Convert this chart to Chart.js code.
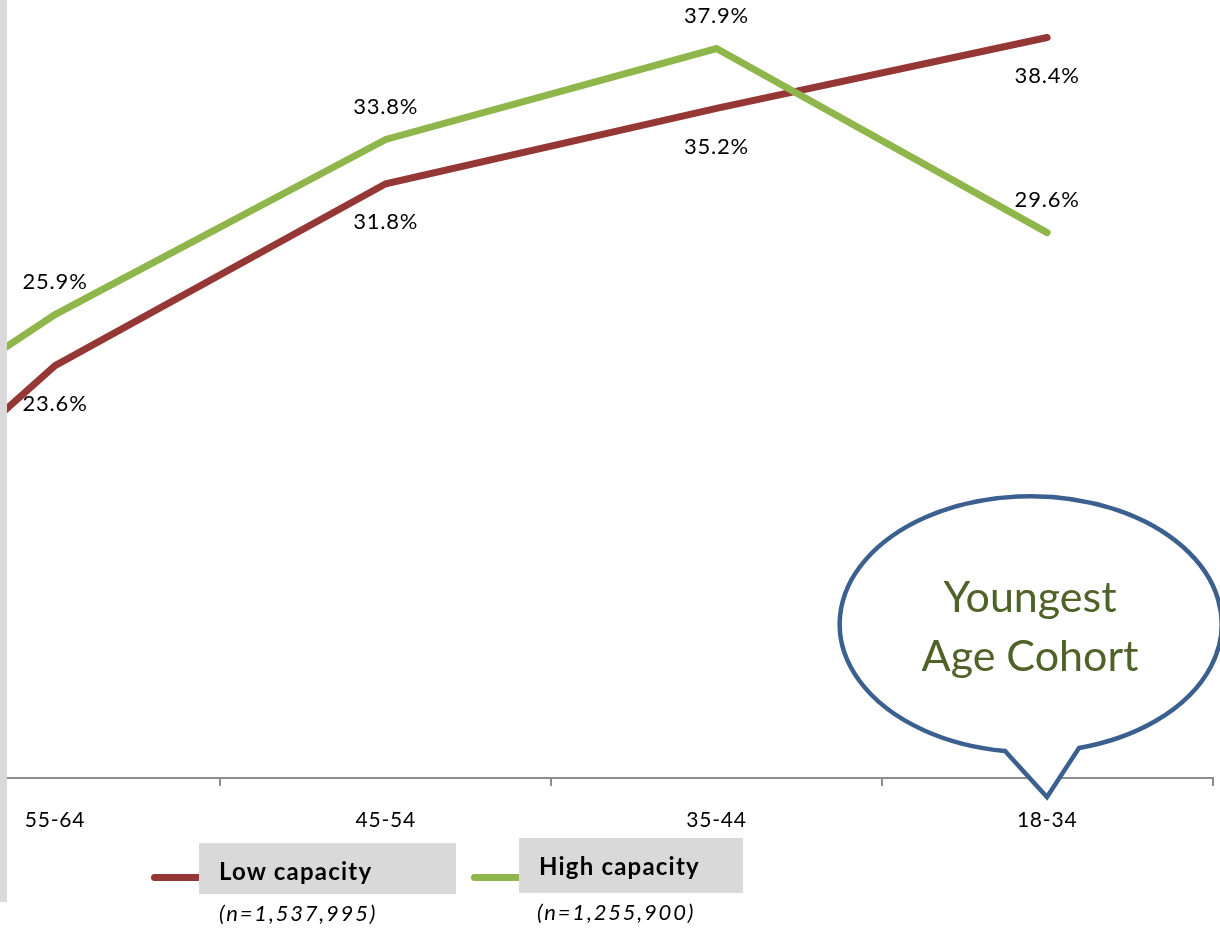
<!DOCTYPE html>
<html>
<head>
<meta charset="utf-8">
<script src="https://cdn.jsdelivr.net/npm/chart.js@4/dist/chart.umd.min.js"></script>
<style>
  html, body { margin: 0; padding: 0; background: #fff; }
  body { width: 1220px; height: 928px; position: relative; overflow: hidden; font-family: Lato, "Open Sans", sans-serif; }
  #wrap { position: absolute; left: -441px; top: 0; width: 1661px; height: 928px; }
  #bar { position: absolute; left: 0; top: 0; width: 7px; height: 902px; background: #d9d9d9; }
  .lg-line { position: absolute; height: 7px; border-radius: 4px; }
  .lg-box { position: absolute; background: #d9d9d9; }
  .lg-text { position: absolute; font-weight: bold; font-size: 24px; letter-spacing: 1.2px; color: #000; white-space: nowrap; }
  .lg-n { position: absolute; font-style: italic; font-size: 22px; letter-spacing: 1.8px; color: #000; white-space: nowrap; }
  svg { position: absolute; left: 0; top: 0; }
</style>
</head>
<body>
<div id="wrap"><canvas id="c" width="1661" height="928"></canvas></div>
<div id="bar"></div>

<div class="lg-line" id="lgLine0" style="left:151px; top:874px; width:60px;"></div>
<div class="lg-box" style="left:199px; top:843px; width:257px; height:51px;"></div>
<div class="lg-text" id="lgText0" style="left:219px; top:856px;"></div>
<div class="lg-n" id="lgN0" style="left:219px; top:899px;"></div>

<div class="lg-line" id="lgLine1" style="left:471px; top:874px; width:60px;"></div>
<div class="lg-box" style="left:519px; top:838px; width:224px; height:55px;"></div>
<div class="lg-text" id="lgText1" style="left:539px; top:851px;"></div>
<div class="lg-n" id="lgN1" style="left:537px; top:898px;"></div>

<svg width="1220" height="928" viewBox="0 0 1220 928">
  <path d="M 1005 751 A 191 128 0 1 1 1079 748 L 1047 797 Z" fill="#ffffff" stroke="none"/>
  <path d="M 1005 751 A 191 128 0 1 1 1079 748 L 1047 797 Z" fill="none" stroke="#3b6090" stroke-width="4.5" stroke-linejoin="miter"/>
  <text x="1030" y="612" text-anchor="middle" font-family="Lato, 'Open Sans', sans-serif" font-size="43" fill="#4f6228">Youngest</text>
  <text x="1030" y="671" text-anchor="middle" font-family="Lato, 'Open Sans', sans-serif" font-size="43" fill="#4f6228">Age Cohort</text>
</svg>

<script>
// ---- data ----
const categories = ["", "55-64", "45-54", "35-44", "18-34"];
const lowCapacity = [10.3, 23.6, 31.8, 35.2, 38.4];
const highCapacity = [16.0, 25.9, 33.8, 37.9, 29.6];
const seriesNames = ["Low capacity", "High capacity"];
const sampleSizes = ["(n=1,537,995)", "(n=1,255,900)"];
const yMin = 5;
const yMax = 40;

const RED = "#953735";
const GREEN = "#8fb64b";

document.getElementById("lgLine0").style.background = RED;
document.getElementById("lgLine1").style.background = GREEN;
document.getElementById("lgText0").textContent = seriesNames[0];
document.getElementById("lgText1").textContent = seriesNames[1];
document.getElementById("lgN0").textContent = sampleSizes[0];
document.getElementById("lgN1").textContent = sampleSizes[1];

const spacingPlugin = {
  id: "spacing",
  beforeDraw(chart) { chart.ctx.letterSpacing = "0.8px"; }
};

const labelPlugin = {
  id: "valueLabels",
  afterDatasetsDraw(chart) {
    const ctx = chart.ctx;
    ctx.save();
    ctx.letterSpacing = "0.8px";
    ctx.font = "22px Lato, 'Open Sans', sans-serif";
    ctx.fillStyle = "#000";
    ctx.textAlign = "center";
    ctx.textBaseline = "middle";
    chart.data.datasets.forEach((ds, di) => {
      const meta = chart.getDatasetMeta(di);
      meta.data.forEach((pt, i) => {
        if (i === 0) return;
        const dy = ds.labelBelow ? 38 : -33;
        ctx.fillText(ds.data[i].toFixed(1) + "%", pt.x, pt.y + dy);
      });
    });
    ctx.restore();
  }
};

new Chart(document.getElementById("c"), {
  type: "line",
  data: {
    labels: categories,
    datasets: [
      { label: seriesNames[0], data: lowCapacity, borderColor: RED, backgroundColor: RED,
        borderWidth: 7, pointRadius: 0, tension: 0, borderCapStyle: "round", borderJoinStyle: "miter",
        order: 2, labelBelow: true },
      { label: seriesNames[1], data: highCapacity, borderColor: GREEN, backgroundColor: GREEN,
        borderWidth: 7, pointRadius: 0, tension: 0, borderCapStyle: "round", borderJoinStyle: "miter",
        order: 1, labelBelow: false }
    ]
  },
  options: {
    responsive: false,
    animation: false,
    layout: { padding: { top: 2, right: 7.5, left: 0, bottom: 0 } },
    plugins: { legend: { display: false }, tooltip: { enabled: false } },
    scales: {
      x: {
        type: "category",
        offset: true,
        grid: { display: true, offset: true, drawOnChartArea: false, drawTicks: true, tickLength: 8, color: "#8c8c8c", lineWidth: 2 },
        border: { display: true, color: "#8c8c8c", width: 2 },
        ticks: { color: "#000", font: { family: "Lato, 'Open Sans', sans-serif", size: 21 }, padding: 22, maxRotation: 0, autoSkip: false },
        afterFit(scale) { scale.height = 150; }
      },
      y: { display: false, min: yMin, max: yMax }
    }
  },
  plugins: [spacingPlugin, labelPlugin]
});
</script>
</body>
</html>
